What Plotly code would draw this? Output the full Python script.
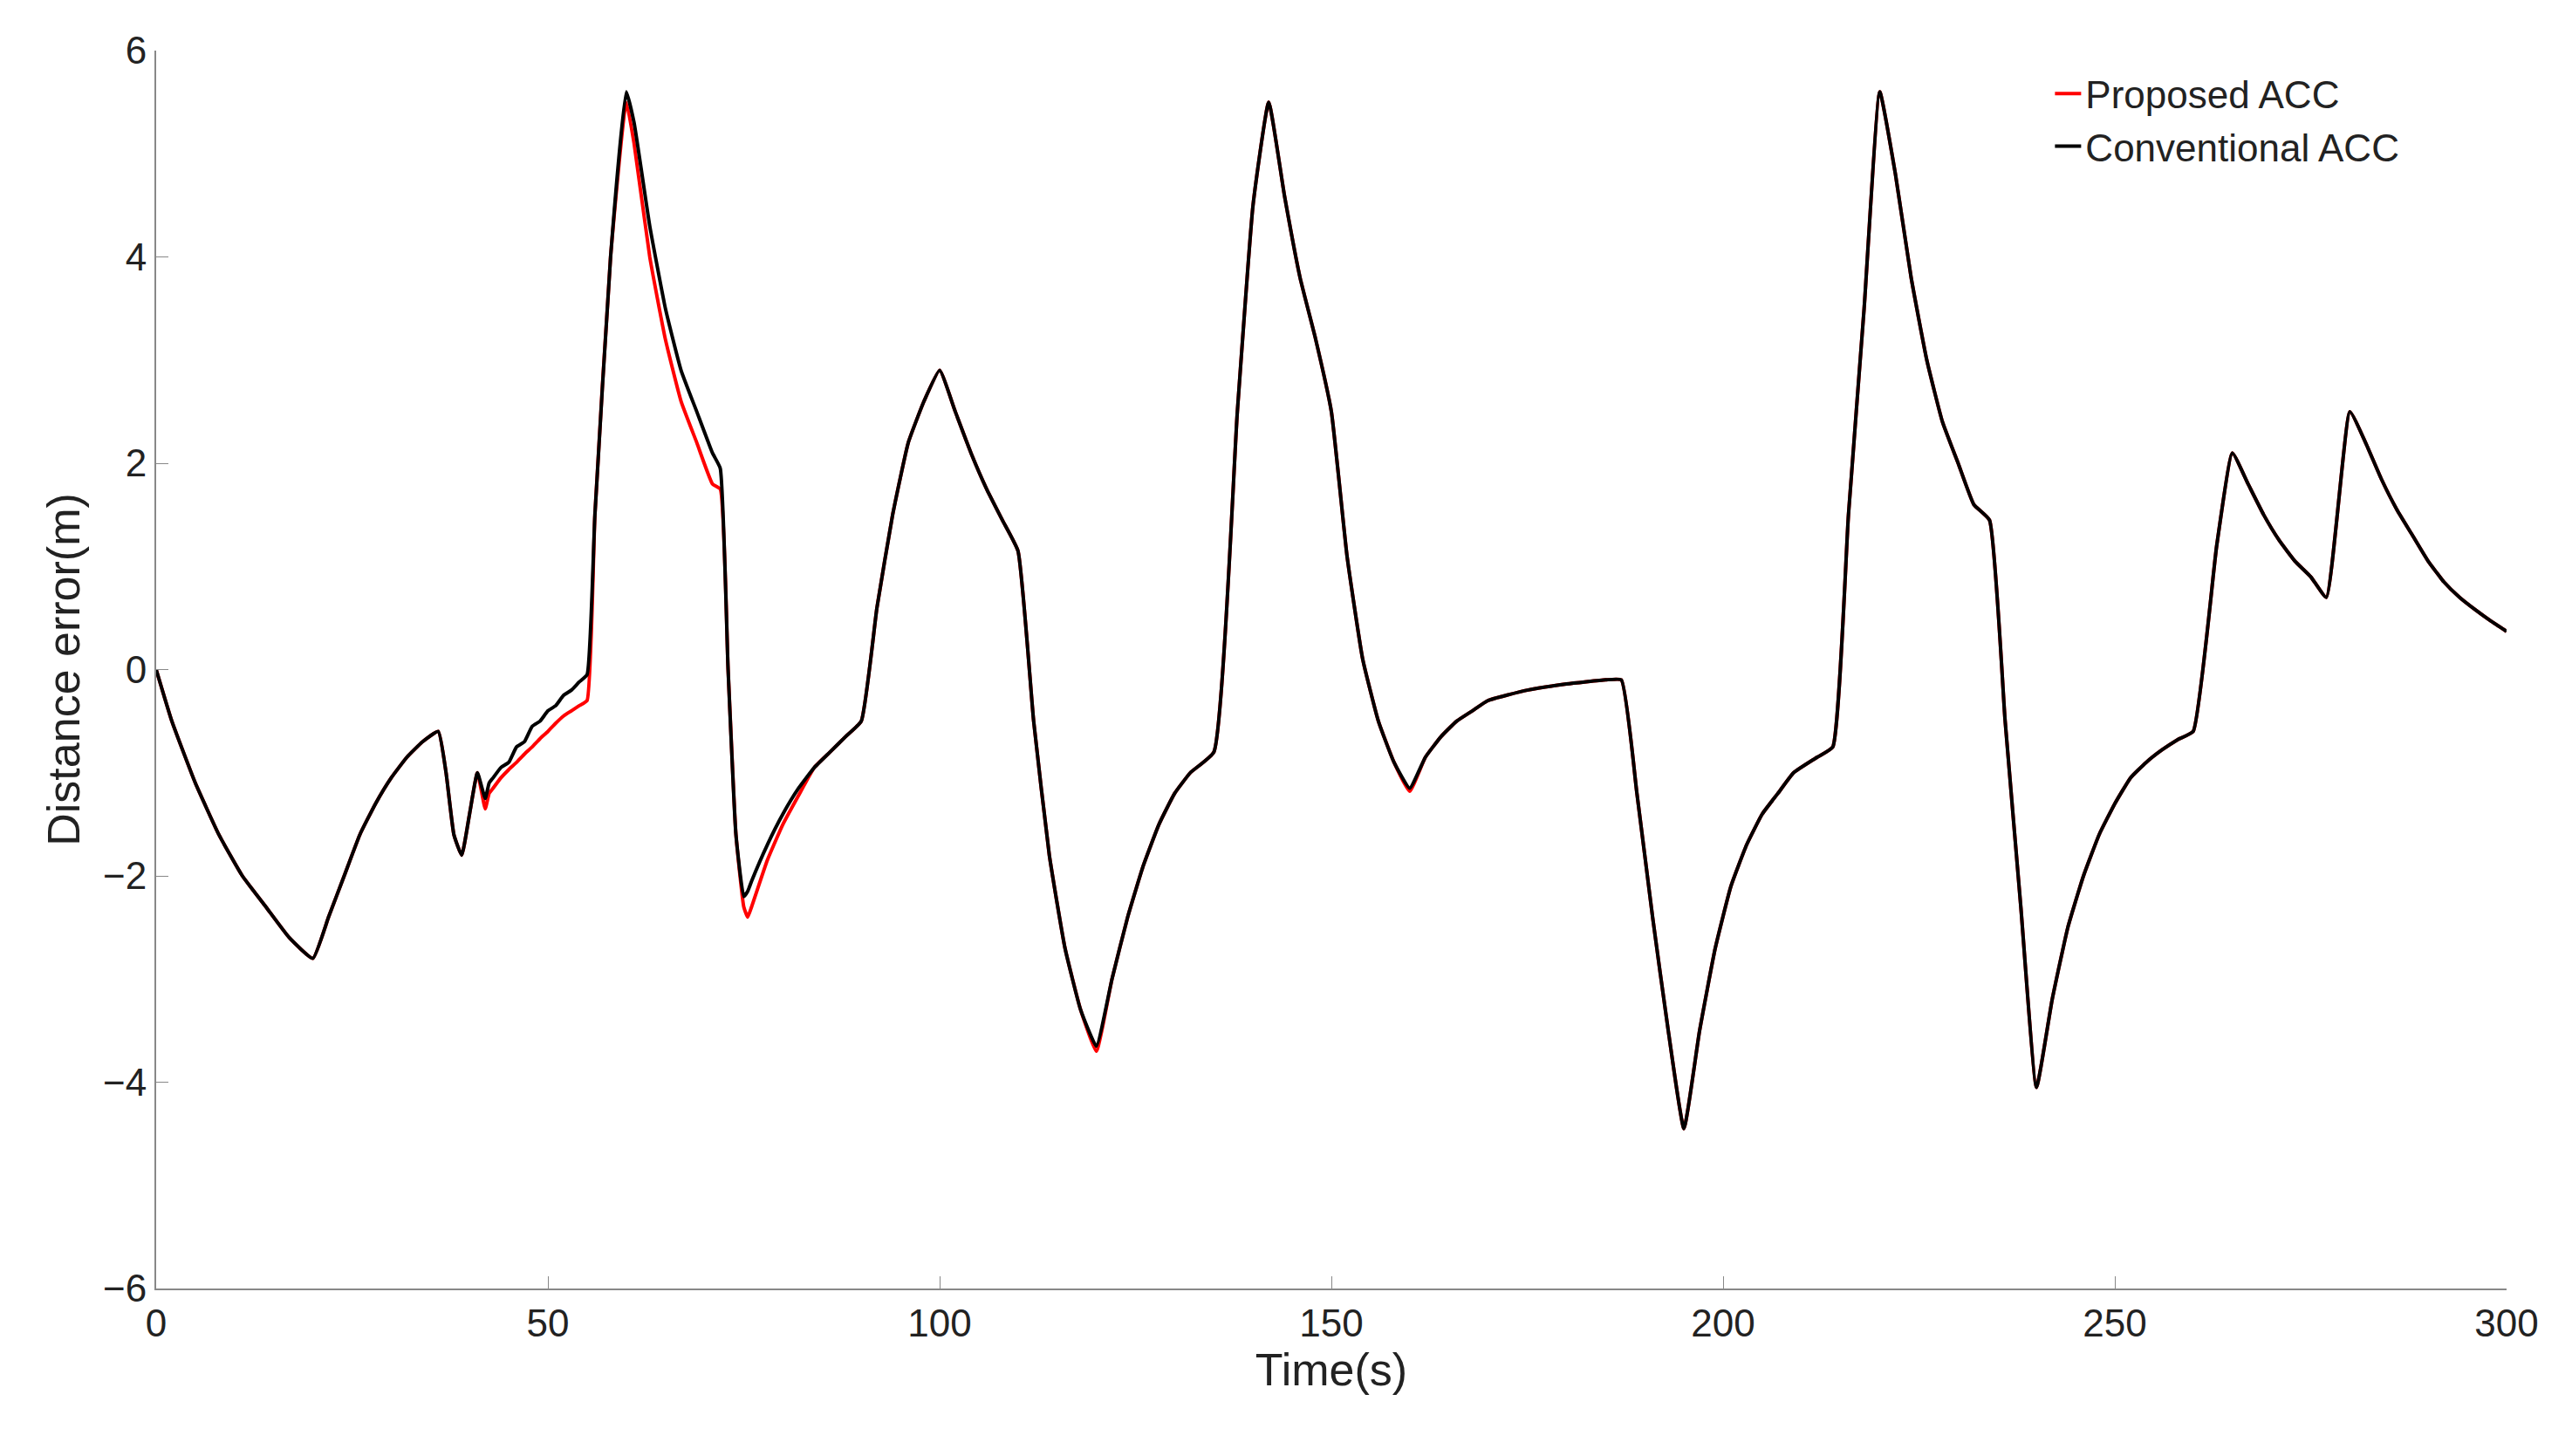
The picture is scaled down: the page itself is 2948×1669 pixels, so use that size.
import plotly.graph_objects as go

t = [0,2,5,8,11,14,17,20,22,24,26,28,30,32,34,36,37,38,39,40,41,42,42.5,43,44,45,46,47,48,49,50,51,52,53,54,55,56,58,60,61,63,65,67,69,71,72,73,74,75,75.5,76,78,80,82,84,86,88,90,92,94,96,98,100,102,104,106,108,110,112,114,116,118,120,122,124,126,128,130,132,135,138,140,142,144,146,148,150,152,154,156,158,160,162,164,166,168,170,175,180,185,187,189,191,193,195,197,199,201,203,205,207,209,212,214,216,218,220,222,224,226,228,230,232,234,236,238,240,242,244,246,248,250,252,254,256,258,260,263,265,267,269,271,273,275,277,280,282,284,286,288,290,292,294,296,298,300]
conv = [0,-0.5,-1.1,-1.6,-2.0,-2.3,-2.6,-2.8,-2.4,-2.0,-1.6,-1.3,-1.05,-0.85,-0.7,-0.6,-1.0,-1.6,-1.8,-1.4,-1.0,-1.25,-1.1,-1.05,-0.95,-0.9,-0.75,-0.7,-0.55,-0.5,-0.4,-0.35,-0.25,-0.2,-0.12,-0.05,1.5,4.0,5.6,5.3,4.3,3.5,2.9,2.5,2.1,1.95,0,-1.6,-2.2,-2.15,-2.05,-1.7,-1.4,-1.15,-0.95,-0.8,-0.65,-0.5,0.6,1.5,2.2,2.6,2.9,2.5,2.1,1.75,1.45,1.15,-0.5,-1.8,-2.7,-3.3,-3.65,-3.0,-2.4,-1.9,-1.5,-1.2,-1.0,-0.8,2.5,4.5,5.5,4.6,3.8,3.2,2.5,1.1,0.1,-0.5,-0.9,-1.15,-0.85,-0.65,-0.5,-0.4,-0.3,-0.2,-0.14,-0.1,-0.1,-1.2,-2.4,-3.5,-4.45,-3.5,-2.7,-2.1,-1.7,-1.4,-1.2,-1.0,-0.85,-0.75,1.5,3.5,5.6,4.8,3.8,3.0,2.4,2.0,1.6,1.45,-0.5,-2.3,-4.05,-3.2,-2.5,-2.0,-1.6,-1.3,-1.05,-0.9,-0.78,-0.68,-0.6,1.2,2.1,1.8,1.5,1.25,1.05,0.9,0.7,2.5,2.2,1.85,1.55,1.3,1.05,0.85,0.7,0.58,0.47,0.37]
prop_override = {42:-1.35,42.5:-1.2,43:-1.15,44:-1.05,45:-0.97,46:-0.9,47:-0.82,48:-0.75,49:-0.67,50:-0.6,51:-0.52,52:-0.45,53:-0.4,54:-0.35,55:-0.3,
                 60:5.5,61:5.1,63:4.0,65:3.2,67:2.6,69:2.2,71:1.8,72:1.75,75:-2.3,75.5:-2.4,76:-2.3,78:-1.85,80:-1.5,82:-1.22,120:-3.7,160:-1.18}
prop = [prop_override.get(ti, yi) for ti, yi in zip(t, conv)]

fig = go.Figure()
fig.add_trace(go.Scatter(x=t, y=prop, mode="lines", name="Proposed ACC",
                         line=dict(color="#ff0000", width=4, shape="spline", smoothing=0.4)))
fig.add_trace(go.Scatter(x=t, y=conv, mode="lines", name="Conventional ACC",
                         line=dict(color="#000000", width=4, shape="spline", smoothing=0.4)))

ax = dict(showgrid=False, zeroline=False, showline=True, linecolor="#888888", linewidth=2,
          ticks="inside", ticklen=14, tickcolor="#888888", tickfont=dict(size=44, color="#222"),
          title_font=dict(size=52, color="#222"))
fig.update_layout(
    width=2948, height=1669, plot_bgcolor="white", paper_bgcolor="white",
    font=dict(family="Liberation Sans, Arial, sans-serif"),
    margin=dict(l=171, r=83, t=50, b=200),
    xaxis=dict(ax, range=[0, 300], tickvals=[0,50,100,150,200,250,300], title_text="Time(s)", title_standoff=10),
    yaxis=dict(ax, range=[-6, 6], tickvals=[-6,-4,-2,0,2,4,6], ticktext=["−6","−4","−2","0","2","4","6"],
               title_text="Distance error(m)", title_standoff=10),
    legend=dict(x=0.806, y=0.99, xanchor="left", yanchor="top", font=dict(size=44, color="#222"),
                bgcolor="rgba(255,255,255,0)", tracegroupgap=0),
    showlegend=True,
)
fig.write_html("out.html")
